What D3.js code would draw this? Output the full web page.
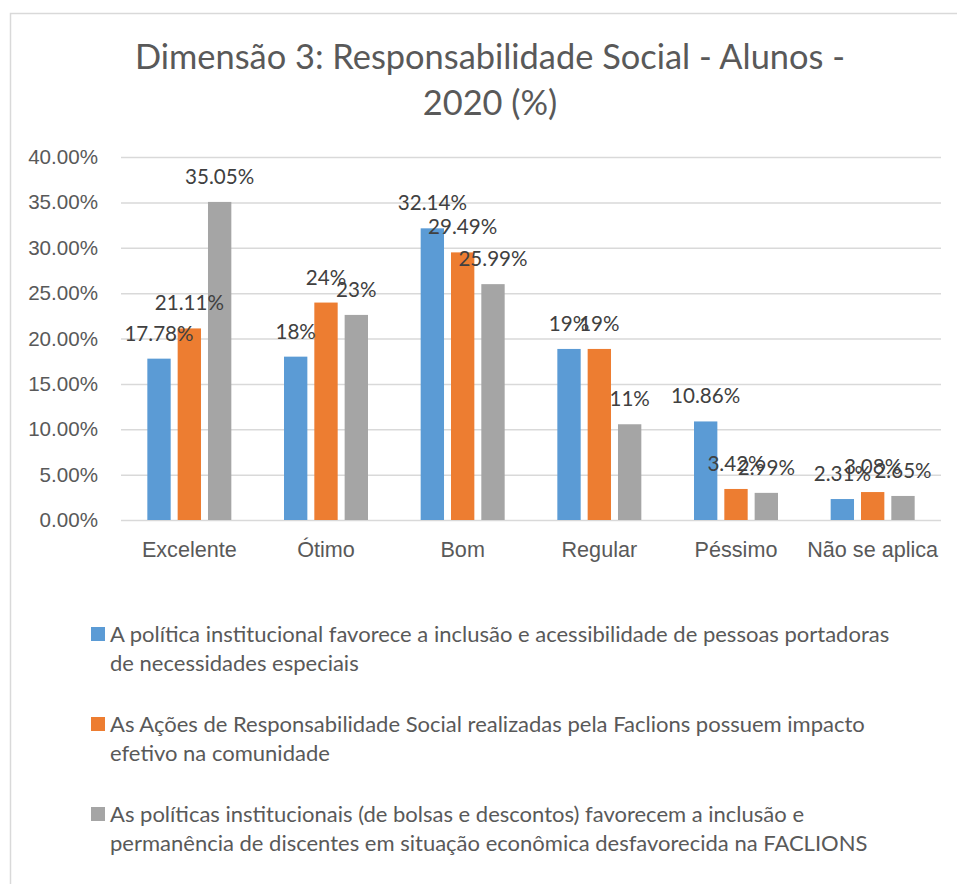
<!DOCTYPE html>
<html>
<head>
<meta charset="utf-8">
<script src="https://cdn.jsdelivr.net/npm/d3@7"></script>
<style>
  body { margin: 0; background: #fff; }
  svg { display: block; font-family: Lato, Carlito, Calibri, sans-serif; }
</style>
</head>
<body>
<div class="container"></div>
<script>
const WIDTH = 957;
const HEIGHT = 884;

// data
var categories = ["Excelente", "Ótimo", "Bom", "Regular", "Péssimo", "Não se aplica"];
var seriesNames = [
  "A política institucional favorece a inclusão e acessibilidade de pessoas portadoras\nde necessidades especiais",
  "As Ações de Responsabilidade Social realizadas pela Faclions possuem impacto\nefetivo na comunidade",
  "As políticas institucionais (de bolsas e descontos) favorecem a inclusão e\npermanência de discentes em situação econômica desfavorecida na FACLIONS"
];
var inclusao = [17.78, 18.0, 32.14, 18.85, 10.86, 2.31];
var acoes = [21.11, 23.96, 29.49, 18.85, 3.42, 3.08];
var bolsas = [35.05, 22.6, 25.99, 10.55, 2.99, 2.65];
var inclusaoLabels = ["17.78%", "18%", "32.14%", "19%", "10.86%", "2.31%"];
var acoesLabels = ["21.11%", "24%", "29.49%", "19%", "3.42%", "3.08%"];
var bolsasLabels = ["35.05%", "23%", "25.99%", "11%", "2.99%", "2.65%"];
var yTicks = [0, 5, 10, 15, 20, 25, 30, 35, 40];
var colors = ["#5B9BD5", "#ED7D31", "#A5A5A5"];

var series = [
  { name: seriesNames[0], values: inclusao, labels: inclusaoLabels },
  { name: seriesNames[1], values: acoes, labels: acoesLabels },
  { name: seriesNames[2], values: bolsas, labels: bolsasLabels }
];

var svg, x0, x1, y;
var plot = { left: 121, right: 941, top: 157, bottom: 520 };

var loadChart = function(){
  svg = d3.select(".container").append("svg")
      .attr("width", WIDTH)
      .attr("height", HEIGHT);

  svg.append("rect")
      .attr("x", 10.5).attr("y", 13.5)
      .attr("width", 970).attr("height", 900)
      .attr("fill", "#fff")
      .attr("stroke", "#D9D9D9")
      .attr("stroke-width", 1.5);

  x0 = d3.scaleBand().domain(categories).range([plot.left, plot.right]);
  var half = x0.bandwidth() / 2;
  x1 = d3.scaleBand().domain(d3.range(series.length))
      .range([half - 42, half + 42]).paddingInner(0.23);
  y = d3.scaleLinear().domain([0, 40]).range([plot.bottom, plot.top]);

  createTitle();
  createGrid();
  createBars();
  createLegend();
}

var createTitle = function(){
  var t = svg.append("text")
      .attr("text-anchor", "middle")
      .attr("fill", "#595959")
      .style("font-size", "34.4px");
  t.append("tspan").attr("x", 490).attr("y", 69).text("Dimensão 3: Responsabilidade Social - Alunos -");
  t.append("tspan").attr("x", 490).attr("y", 115).text("2020 (%)");
}

var createGrid = function(){
  var yAxis = d3.axisLeft(y)
      .tickValues(yTicks)
      .tickSize(-(plot.right - plot.left))
      .tickPadding(23)
      .tickFormat(d => d.toFixed(2) + "%");

  var g = svg.append("g")
      .attr("transform", "translate(" + plot.left + ",0)")
      .call(yAxis);
  g.select(".domain").remove();
  g.selectAll(".tick line").attr("stroke", "#D9D9D9").attr("stroke-width", 1.5);
  g.selectAll(".tick text")
      .attr("fill", "#595959")
      .style("font-size", "20.6px")
      .attr("font-family", null);

  var xAxis = d3.axisBottom(x0).tickSize(0).tickPadding(22);
  var gx = svg.append("g")
      .attr("transform", "translate(0," + plot.bottom + ")")
      .call(xAxis);
  gx.select(".domain").remove();
  gx.selectAll(".tick text")
      .attr("fill", "#595959")
      .style("font-size", "21.6px")
      .attr("font-family", null);
}

var createBars = function(){
  var groups = svg.selectAll(".group")
      .data(categories)
      .enter().append("g")
      .attr("class", "group")
      .attr("transform", d => "translate(" + x0(d) + ",0)");

  series.forEach(function(s, i){
    groups.append("rect")
        .attr("x", x1(i))
        .attr("width", x1.bandwidth())
        .attr("y", (d, j) => y(s.values[j]))
        .attr("height", (d, j) => y(0) - y(s.values[j]))
        .attr("fill", colors[i]);
  });

  series.forEach(function(s, i){
    groups.append("text")
        .attr("x", x1(i) + x1.bandwidth() / 2)
        .attr("y", (d, j) => y(s.values[j]) - 18)
        .attr("text-anchor", "middle")
        .attr("fill", "#404040")
        .style("font-size", "20.6px")
        .text((d, j) => s.labels[j]);
  });
}

var createLegend = function(){
  var item = svg.selectAll(".legend")
      .data(series)
      .enter().append("g")
      .attr("class", "legend")
      .attr("transform", (d, i) => "translate(91," + (627 + i * 90) + ")");

  item.append("rect")
      .attr("width", 14).attr("height", 14)
      .attr("fill", (d, i) => colors[i]);

  var txt = item.append("text")
      .attr("fill", "#595959")
      .style("font-size", "22px");
  txt.selectAll("tspan")
      .data(d => d.name.split("\n"))
      .enter().append("tspan")
      .attr("x", 19)
      .attr("y", (d, k) => 14.5 + k * 29.5)
      .text(d => d);
}

window.onload = loadChart;
</script>
</body>
</html>
